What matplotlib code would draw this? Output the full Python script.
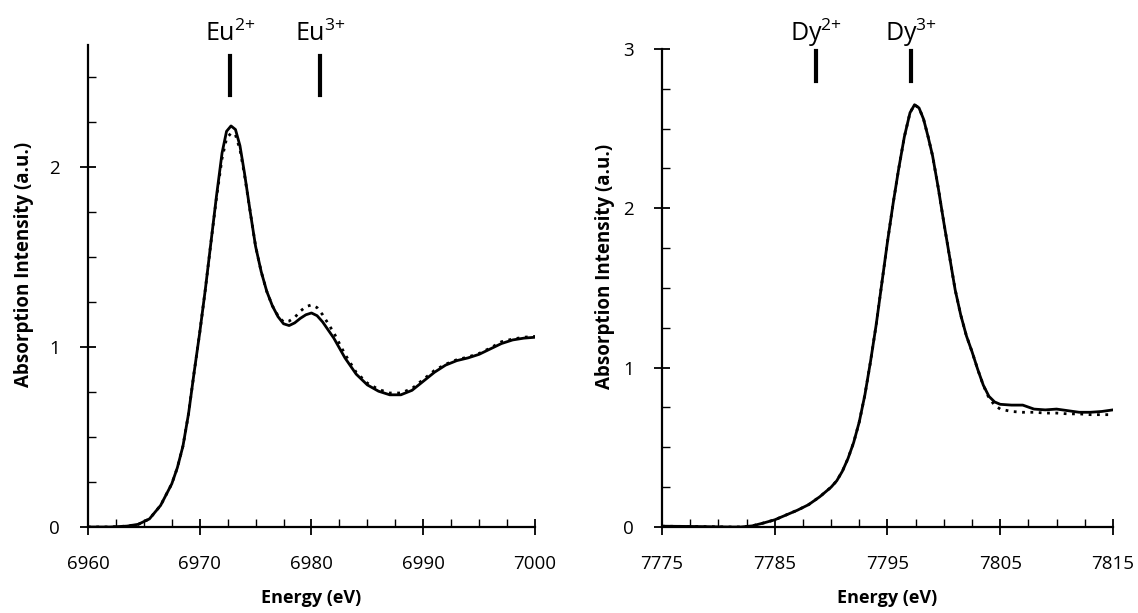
import matplotlib.pyplot as plt
import numpy as np
from matplotlib.ticker import MultipleLocator, FixedLocator

# Eu L3-edge (left panel)
eu_energy = [6960, 6962, 6963.5, 6964.5, 6965.5, 6966.5, 6967.5, 6968, 6968.5, 6969,
             6969.5, 6970, 6970.5, 6971, 6971.5, 6972, 6972.4, 6972.8, 6973.2, 6973.6,
             6974, 6974.5, 6975, 6975.5, 6976, 6976.5, 6977, 6977.5, 6978, 6978.5,
             6979, 6979.5, 6980, 6980.5, 6981, 6982, 6983, 6984, 6985, 6986,
             6987, 6988, 6989, 6990, 6991, 6992, 6993, 6994, 6995, 6996,
             6997, 6998, 6999, 7000]
eu_solid = [0.0, 0.0, 0.005, 0.015, 0.045, 0.12, 0.24, 0.33, 0.45, 0.63,
            0.86, 1.08, 1.32, 1.58, 1.84, 2.08, 2.20, 2.23, 2.21, 2.12,
            1.97, 1.76, 1.56, 1.42, 1.31, 1.23, 1.17, 1.13, 1.12, 1.135,
            1.16, 1.18, 1.19, 1.175, 1.14, 1.05, 0.94, 0.85, 0.79, 0.755,
            0.735, 0.735, 0.76, 0.81, 0.86, 0.90, 0.925, 0.94, 0.96, 0.99,
            1.02, 1.04, 1.05, 1.055]
eu_dotted = [0.0, 0.0, 0.005, 0.015, 0.045, 0.12, 0.24, 0.33, 0.45, 0.63,
             0.86, 1.08, 1.32, 1.58, 1.83, 2.05, 2.16, 2.19, 2.18, 2.10,
             1.96, 1.76, 1.56, 1.42, 1.31, 1.23, 1.175, 1.14, 1.145, 1.165,
             1.20, 1.225, 1.235, 1.22, 1.18, 1.08, 0.96, 0.86, 0.80, 0.765,
             0.745, 0.745, 0.77, 0.82, 0.87, 0.905, 0.93, 0.945, 0.965, 0.995,
             1.03, 1.045, 1.055, 1.06]
eu_marks = [6972.7, 6980.8]
eu_labels = ['Eu$^{2{+}}$', 'Eu$^{3{+}}$']

# Dy L3-edge (right panel)
dy_energy = [7775, 7778, 7781, 7782, 7783, 7784, 7785, 7786, 7787, 7788,
             7789, 7790, 7790.5, 7791, 7791.5, 7792, 7792.5, 7793, 7793.5, 7794,
             7794.5, 7795, 7795.5, 7796, 7796.5, 7797, 7797.4, 7797.8, 7798.2, 7798.6,
             7799, 7799.5, 7800, 7800.5, 7801, 7801.5, 7802, 7802.5, 7803, 7803.5,
             7804, 7804.5, 7805, 7806, 7807, 7808, 7809, 7810, 7811, 7812,
             7813, 7814, 7815]
dy_solid = [0.005, 0.003, 0.0, 0.0, 0.007, 0.025, 0.045, 0.075, 0.105, 0.14,
            0.19, 0.25, 0.29, 0.35, 0.43, 0.53, 0.66, 0.83, 1.04, 1.27,
            1.53, 1.79, 2.03, 2.25, 2.45, 2.60, 2.65, 2.63, 2.56, 2.45,
            2.33, 2.13, 1.91, 1.70, 1.49, 1.33, 1.20, 1.10, 0.99, 0.89,
            0.82, 0.785, 0.77, 0.765, 0.765, 0.74, 0.735, 0.74, 0.73, 0.72,
            0.72, 0.725, 0.735]
dy_dotted = [0.005, 0.003, 0.0, 0.0, 0.007, 0.025, 0.045, 0.075, 0.105, 0.14,
             0.19, 0.25, 0.29, 0.35, 0.43, 0.53, 0.66, 0.83, 1.04, 1.27,
             1.53, 1.79, 2.03, 2.25, 2.45, 2.60, 2.65, 2.63, 2.56, 2.45,
             2.33, 2.13, 1.91, 1.70, 1.49, 1.33, 1.20, 1.10, 0.99, 0.89,
             0.81, 0.765, 0.74, 0.725, 0.72, 0.72, 0.715, 0.715, 0.71, 0.71,
             0.705, 0.705, 0.705]
dy_marks = [7788.7, 7797.1]
dy_labels = ['Dy$^{2{+}}$', 'Dy$^{3{+}}$']

plt.rcParams['font.family'] = ['Open Sans', 'DejaVu Sans']
plt.rcParams['mathtext.fontset'] = 'custom'
plt.rcParams['mathtext.rm'] = 'Open Sans'
plt.rcParams['mathtext.default'] = 'regular'

fig = plt.figure(figsize=(11.38, 6.13), dpi=100)
ax1 = fig.add_axes([0.0773, 0.1403, 0.3928, 0.7863])
ax2 = fig.add_axes([0.5817, 0.1403, 0.3963, 0.7798])


def style(ax, xlim, ylim, xticks, ymajor, ylab_x):
    ax.set_xlim(*xlim)
    ax.set_ylim(*ylim)
    for s in ['top', 'right']:
        ax.spines[s].set_visible(False)
    for s in ['left', 'bottom']:
        ax.spines[s].set_linewidth(1.6)
    ax.xaxis.set_major_locator(FixedLocator(xticks))
    ax.xaxis.set_minor_locator(FixedLocator(np.arange(xlim[0], xlim[1] + 0.1, 2.5)))
    ax.yaxis.set_major_locator(MultipleLocator(ymajor))
    ax.yaxis.set_minor_locator(MultipleLocator(ymajor / 4))
    ax.tick_params(which='major', direction='inout', length=12, width=1.3,
                   labelsize=13.5, pad=14)
    ax.tick_params(which='minor', direction='in', length=6, width=1.0)
    ax.set_xlabel('Energy (eV)', fontsize=13, weight='bold', labelpad=12)
    ax.set_ylabel('Absorption Intensity (a.u.)', fontsize=13.5, weight='bold')
    ax.yaxis.set_label_coords(ylab_x, 0.545)


ax1.plot(eu_energy, eu_solid, color='black', lw=2.0)
ax1.plot(eu_energy, eu_dotted, color='black', lw=2.0, ls=(0, (1, 2)))
style(ax1, (6960, 7000), (0, 2.68), [6960, 6970, 6980, 6990, 7000], 1, -0.12)
for xm, lab in zip(eu_marks, eu_labels):
    ax1.plot([xm, xm], [2.4, 2.62], color='black', lw=3, clip_on=False)
    ax1.text(xm, 2.70, lab, ha='center', va='baseline', fontsize=18)

ax2.plot(dy_energy, dy_solid, color='black', lw=2.0)
ax2.plot(dy_energy, dy_dotted, color='black', lw=2.0, ls=(0, (1, 2)))
style(ax2, (7775, 7815), (0, 3), [7775, 7785, 7795, 7805, 7815], 1, -0.105)
for xm, lab in zip(dy_marks, dy_labels):
    ax2.plot([xm, xm], [2.80, 2.99], color='black', lw=3, clip_on=False)
    ax2.text(xm, 3.05, lab, ha='center', va='baseline', fontsize=18)

fig.savefig('out.png', dpi=100)
